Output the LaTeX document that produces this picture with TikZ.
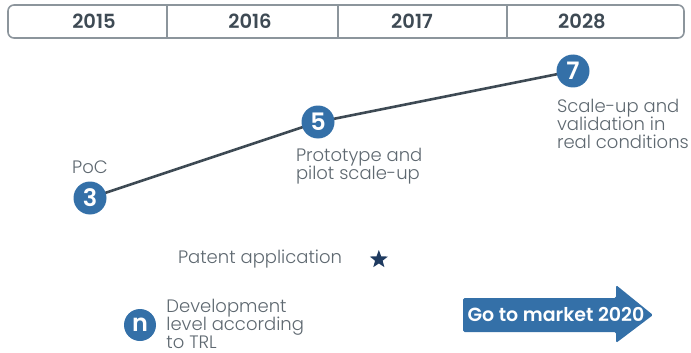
\documentclass[tikz,border=0pt]{standalone}
\usepackage{fontspec}
\setmainfont{Poppins Light}[BoldFont=Poppins SemiBold]
\usetikzlibrary{positioning, shapes.geometric, backgrounds}

\definecolor{trlblue}{HTML}{3470A8}
\definecolor{slate}{HTML}{3E4A54}
\definecolor{txtgray}{HTML}{5E6870}
\definecolor{framegray}{HTML}{8C959C}
\definecolor{navy}{HTML}{1F3B60}

\begin{document}
\begin{tikzpicture}[x=1pt, y=-1pt,
  year/.style={font=\bfseries\fontsize{19.5}{20}\selectfont, text=slate, inner sep=0pt},
  trl/.style={circle, fill=trlblue, minimum size=33pt, inner sep=0pt,
              text=white, font=\bfseries\fontsize{24}{24}\selectfont},
  desc/.style={align=left, text=txtgray, inner sep=0pt,
               font=\fontsize{18}{18.3}\selectfont},
  link/.style={draw=slate, line width=2.6pt},
  frame/.style={draw=framegray, line width=1.6pt},
  gomkt/.style={fill=trlblue, rounded corners=1.5pt},
  gotxt/.style={text=white, inner sep=0pt, font=\bfseries\fontsize{19}{20}\selectfont},
]
\useasboundingbox (0,0) rectangle (691,353);

% Year header
\draw[frame, rounded corners=6pt] (8,5) rectangle (684,38);
\foreach \xd in {167,338,507}
  \draw[frame, line width=1.3pt] (\xd,5) -- (\xd,38);
\node[year] (y1) at (94,21.5) {2015};
\node[year] (y2) at (250,21.5) {2016};
\node[year] (y3) at (412,21.5) {2017};
\node[year] (y4) at (582,21.5) {2028};

% TRL steps
\node[trl] (t3) at (90,198) {3};
\node[trl] (t5) at (318,122) {5};
\node[trl] (t7) at (573,71) {7};
\begin{scope}[on background layer]
  \draw[link] (t3.center) -- (t5.center) -- (t7.center);
\end{scope}

\node[desc, above=7pt of t3] (d3) {PoC};
\node[desc, below right=14pt and -34pt of t5] (d5) {Prototype and\\pilot scale-up};
\node[desc, below right=16pt and -28pt of t7] (d7) {Scale-up and\\validation in\\real conditions};

% Patent
\node[desc] (pat) at (260,259.5) {Patent application};
\node[star, star points=5, star point ratio=2.4, fill=navy, minimum size=19pt,
      inner sep=0pt, right=31pt of pat] (st) {};

% Legend
\node[trl, minimum size=32pt] (tn) at (140,325) {n};
\node[desc, right=10pt of tn, yshift=1pt] (dn) {Development\\level according\\to TRL};

% Go to market
\fill[gomkt] (463,298) -- (616,298) -- (616,285) -- (653,315)
  -- (616,343) -- (616,332) -- (463,332) -- cycle;
\node[gotxt] (go) at (556,315) {Go to market 2020};

\end{tikzpicture}
\end{document}
